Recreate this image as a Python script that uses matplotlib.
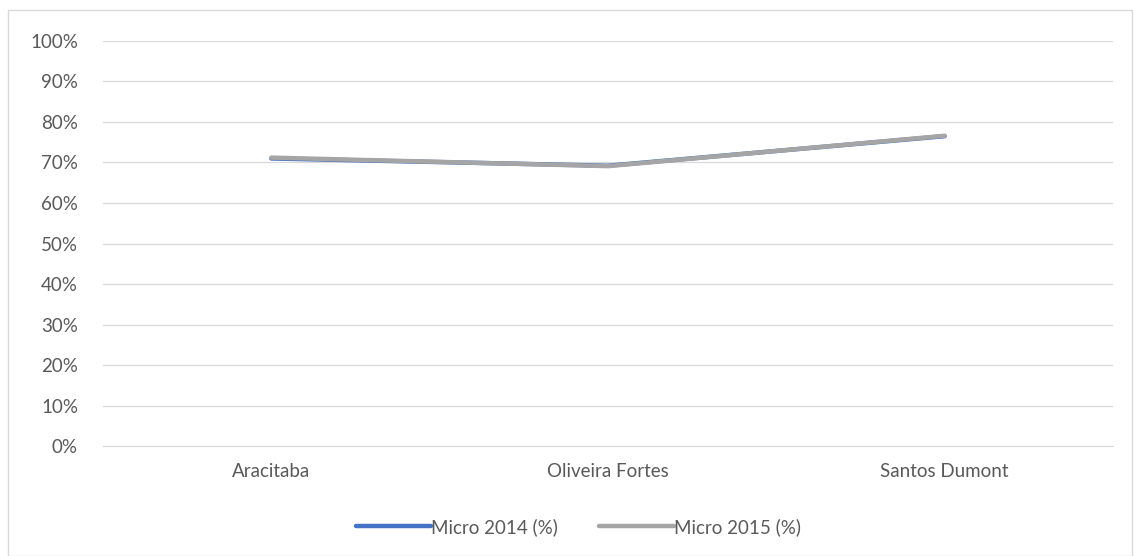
import matplotlib.pyplot as plt
from matplotlib.patches import Rectangle
from matplotlib.ticker import PercentFormatter

plt.rcParams['font.family'] = ['Lato', 'DejaVu Sans']

categories = ['Aracitaba', 'Oliveira Fortes', 'Santos Dumont']
micro_2014 = [0.710, 0.692, 0.765]
micro_2015 = [0.712, 0.691, 0.766]

fig = plt.figure(figsize=(11.34, 5.56), dpi=100)
ax = fig.add_axes([0.0908, 0.1978, 0.8907, 0.7285])

x = range(len(categories))
ax.plot(x, micro_2014, color='#4472C4', lw=3.2, solid_capstyle='round', label='Micro 2014 (%)', zorder=3)
ax.plot(x, micro_2015, color='#A5A5A5', lw=3.2, solid_capstyle='round', label='Micro 2015 (%)', zorder=4)

ax.set_xlim(-0.5, 2.5)
ax.set_ylim(0, 1)
ax.set_yticks([i / 10 for i in range(11)])
ax.yaxis.set_major_formatter(PercentFormatter(1.0, decimals=0))
ax.set_xticks(list(x))
ax.set_xticklabels(categories)
ax.grid(axis='y', color='#D9D9D9', lw=0.9)
ax.set_axisbelow(True)
for s in ['top', 'right', 'left']:
    ax.spines[s].set_visible(False)
ax.spines['bottom'].set_color('#D9D9D9')
ax.tick_params(axis='both', length=0, labelsize=13.5, labelcolor='#595959')
ax.tick_params(axis='y', pad=18)
ax.tick_params(axis='x', pad=12)

leg = fig.legend(loc='center', bbox_to_anchor=(0.51, 0.052), ncol=2, frameon=False,
                 fontsize=13.5, handlelength=4.0, handletextpad=0.0, columnspacing=2.2)
for t in leg.get_texts():
    t.set_color('#595959')
for h in leg.get_lines():
    h.set_linewidth(3.2)

fig.patches.append(Rectangle((8 / 1134, 0), 1124 / 1134, 546 / 556, transform=fig.transFigure,
                             fill=False, edgecolor='#D9D9D9', lw=1))

fig.savefig('out.png', dpi=100)
